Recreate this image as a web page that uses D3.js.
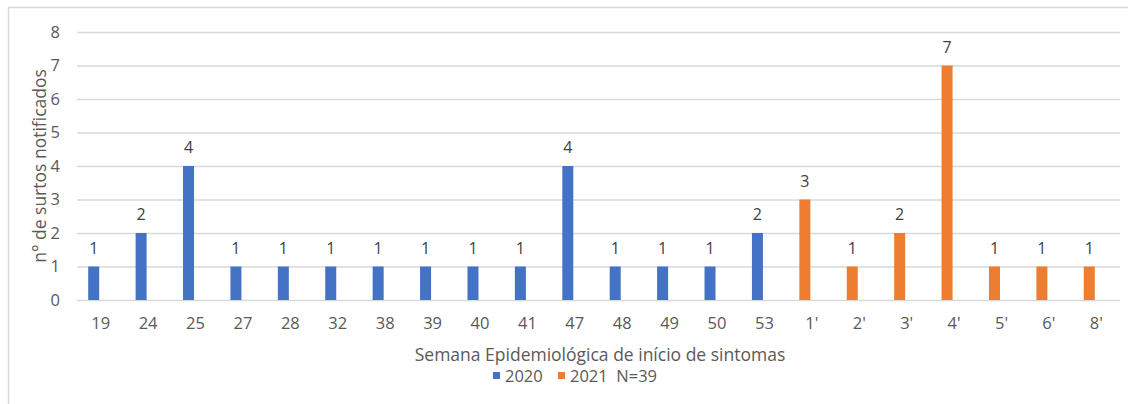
<!DOCTYPE html>
<html lang="pt">
<head>
<meta charset="utf-8">
<title>Surtos notificados por semana</title>
<script src="https://cdn.jsdelivr.net/npm/d3@7"></script>
<style>
  body { margin: 0; background: #fff; }
  svg text { font-family: "Open Sans", "Noto Sans", sans-serif; }
  .tick text { fill: #595959; font-size: 16.5px; }
  .lbl { fill: #404040; font-size: 16px; text-anchor: middle; }
</style>
</head>
<body>
<script>
// semanas epidemiológicas (2020 e 2021)
var weeks = ["19","24","25","27","28","32","38","39","40","41","47","48","49","50","53",
             "1'","2'","3'","4'","5'","6'","8'"];
var s2020 = [1,2,4,1,1,1,1,1,1,1,4,1,1,1,2, null,null,null,null,null,null,null];
var s2021 = [null,null,null,null,null,null,null,null,null,null,null,null,null,null,null,
             3,1,2,7,1,1,1];
var yTicks = [0,1,2,3,4,5,6,7,8];

var w = 1128, h = 404;
var mLeft = 77, mRight = 1120, mTop = 32, mBottom = 300;
var barW = 11, barShift = -7;

var svg = d3.select("body").append("svg")
  .attr("width", w).attr("height", h);

// moldura do gráfico (recortada à direita e em baixo)
svg.append("path")
  .attr("d", "M8.5," + h + " V7.5 H" + w)
  .attr("fill", "none").attr("stroke", "#d9d9d9").attr("stroke-width", 1.5);

var x = d3.scaleBand().domain(weeks).range([mLeft, mRight]);
var y = d3.scaleLinear().domain([0, 8]).range([mBottom, mTop]);

// grelha
svg.append("g")
  .attr("transform", "translate(" + mLeft + ",0)")
  .call(d3.axisLeft(y).tickValues(yTicks).tickSize(-(mRight - mLeft)).tickPadding(17))
  .call(function(g) {
    g.select(".domain").remove();
    g.selectAll(".tick line").attr("stroke", "#d9d9d9").attr("stroke-width", 1.5);
  });

// eixo x
svg.append("g")
  .attr("transform", "translate(0," + mBottom + ")")
  .call(d3.axisBottom(x).tickSize(0).tickPadding(17))
  .call(function(g) {
    g.select(".domain").remove();
  });

var series = [
  { name: "2020", values: s2020, color: "#4472C4" },
  { name: "2021  N=39", values: s2021, color: "#ED7D31" }
];

series.forEach(function(s) {
  var data = weeks.map(function(wk, i) { return { wk: wk, v: s.values[i] }; })
    .filter(function(d) { return d.v != null; });

  svg.append("g").selectAll("rect")
    .data(data)
    .enter()
    .append("rect")
    .attr("x", function(d) { return x(d.wk) + x.bandwidth() / 2 + barShift - barW / 2; })
    .attr("y", function(d) { return y(d.v); })
    .attr("width", barW)
    .attr("height", function(d) { return y(0) - y(d.v); })
    .attr("fill", s.color);

  svg.append("g").selectAll("text")
    .data(data)
    .enter()
    .append("text")
    .attr("class", "lbl")
    .attr("x", function(d) { return x(d.wk) + x.bandwidth() / 2 + barShift; })
    .attr("y", function(d) { return y(d.v) - 13; })
    .text(function(d) { return d.v; });
});

// títulos dos eixos
svg.append("text")
  .attr("transform", "translate(46," + ((mTop + mBottom) / 2) + ") rotate(-90)")
  .attr("text-anchor", "middle")
  .attr("fill", "#595959")
  .style("font-size", "17.5px")
  .text("n° de surtos notificados");

svg.append("text")
  .attr("x", 600).attr("y", 361)
  .attr("text-anchor", "middle")
  .attr("fill", "#595959")
  .style("font-size", "17.5px")
  .text("Semana Epidemiológica de início de sintomas");

// legenda
var legX = [493, 558];
series.forEach(function(s, i) {
  svg.append("rect")
    .attr("x", legX[i]).attr("y", 372).attr("width", 7).attr("height", 7)
    .attr("fill", s.color);
  svg.append("text")
    .attr("x", legX[i] + 12).attr("y", 382)
    .attr("fill", "#595959")
    .style("font-size", "16.5px")
    .attr("xml:space", "preserve")
    .text(s.name);
});
</script>
</body>
</html>
